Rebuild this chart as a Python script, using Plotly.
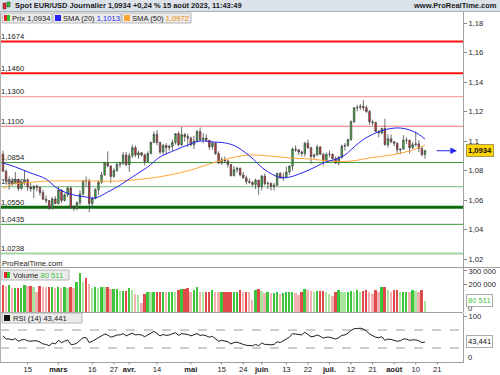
import pandas as pd
import plotly.graph_objects as go

W, H = 500, 375

# ---------------- data ----------------
dates = pd.bdate_range("2023-02-03", "2023-08-15")          # 138 daily sessions
calendar = pd.bdate_range("2023-02-03", "2023-09-29")       # axis calendar incl. future days

open_ = [1.0911, 1.0795, 1.0727, 1.0728, 1.0712, 1.0740, 1.0678, 1.0723, 1.0737, 1.0688,
         1.0675, 1.0694, 1.0685, 1.0650, 1.0605, 1.0596, 1.0545, 1.0607, 1.0576, 1.0668,
         1.0597, 1.0635, 1.0681, 1.0548, 1.0545, 1.0582, 1.0640, 1.0731, 1.0730, 1.0577,
         1.0610, 1.0670, 1.0720, 1.0770, 1.0850, 1.0830, 1.0760, 1.0800, 1.0843, 1.0845,
         1.0905, 1.0840, 1.0900, 1.0955, 1.0905, 1.0920, 1.0905, 1.0860, 1.0915, 1.0990,
         1.1045, 1.0990, 1.0925, 1.0970, 1.0955, 1.0965, 1.0990, 1.1050, 1.0975, 1.1043,
         1.1030, 1.1020, 1.0975, 1.1000, 1.1065, 1.1010, 1.1020, 1.1005, 1.0960, 1.0985,
         1.0915, 1.0850, 1.0873, 1.0865, 1.0840, 1.0765, 1.0805, 1.0815, 1.0770, 1.0750,
         1.0725, 1.0720, 1.0705, 1.0735, 1.0690, 1.0762, 1.0710, 1.0712, 1.0692, 1.0700,
         1.0780, 1.0750, 1.0755, 1.0790, 1.0830, 1.0945, 1.0940, 1.0925, 1.0915, 1.0985,
         1.0955, 1.0895, 1.0905, 1.0960, 1.0910, 1.0865, 1.0910, 1.0910, 1.0880, 1.0850,
         1.0890, 1.0965, 1.0970, 1.1010, 1.1130, 1.1225, 1.1228, 1.1235, 1.1225, 1.1200,
         1.1130, 1.1125, 1.1065, 1.1055, 1.1085, 1.0975, 1.1015, 1.0995, 1.0985, 1.0940,
         1.0945, 1.1005, 1.1005, 1.0955, 1.0975, 1.0980, 1.0950, 1.0908]
high = [1.0935, 1.0805, 1.0760, 1.0750, 1.0790, 1.0745, 1.0730, 1.0804, 1.0745, 1.0715,
        1.0700, 1.0705, 1.0695, 1.0670, 1.0630, 1.0600, 1.0620, 1.0625, 1.0690, 1.0670,
        1.0645, 1.0695, 1.0695, 1.0565, 1.0590, 1.0665, 1.0735, 1.0760, 1.0745, 1.0620,
        1.0680, 1.0735, 1.0790, 1.0860, 1.0930, 1.0835, 1.0815, 1.0850, 1.0860, 1.0925,
        1.0925, 1.0920, 1.0975, 1.0970, 1.0935, 1.0925, 1.0915, 1.0930, 1.0995, 1.1065,
        1.1075, 1.0995, 1.0980, 1.0985, 1.0975, 1.1010, 1.1050, 1.1065, 1.1095, 1.1055,
        1.1050, 1.1030, 1.1035, 1.1075, 1.1092, 1.1055, 1.1045, 1.1005, 1.1000, 1.0990,
        1.0930, 1.0890, 1.0895, 1.0875, 1.0845, 1.0830, 1.0825, 1.0820, 1.0790, 1.0765,
        1.0745, 1.0725, 1.0745, 1.0735, 1.0770, 1.0780, 1.0725, 1.0720, 1.0715, 1.0785,
        1.0790, 1.0785, 1.0825, 1.0835, 1.0955, 1.0970, 1.0945, 1.0935, 1.0995, 1.1010,
        1.0960, 1.0915, 1.0975, 1.0965, 1.0920, 1.0920, 1.0935, 1.0915, 1.0895, 1.0900,
        1.0975, 1.0985, 1.1015, 1.1140, 1.1230, 1.1245, 1.1250, 1.1276, 1.1240, 1.1210,
        1.1145, 1.1130, 1.1075, 1.1090, 1.1150, 1.1045, 1.1045, 1.1000, 1.0990, 1.0950,
        1.1040, 1.1025, 1.1010, 1.0995, 1.1065, 1.1005, 1.0960, 1.0940]
low = [1.0791, 1.0706, 1.0669, 1.0695, 1.0705, 1.0660, 1.0670, 1.0700, 1.0660, 1.0655,
       1.0613, 1.0660, 1.0630, 1.0600, 1.0578, 1.0533, 1.0535, 1.0570, 1.0570, 1.0580,
       1.0590, 1.0620, 1.0540, 1.0524, 1.0530, 1.0565, 1.0630, 1.0690, 1.0516, 1.0550,
       1.0605, 1.0635, 1.0710, 1.0765, 1.0825, 1.0715, 1.0750, 1.0790, 1.0820, 1.0840,
       1.0830, 1.0790, 1.0885, 1.0890, 1.0880, 1.0895, 1.0835, 1.0860, 1.0910, 1.0985,
       1.0970, 1.0910, 1.0910, 1.0910, 1.0935, 1.0935, 1.0975, 1.0965, 1.0965, 1.0995,
       1.0960, 1.0965, 1.0945, 1.0995, 1.0995, 1.0985, 1.0995, 1.0940, 1.0940, 1.0905,
       1.0845, 1.0840, 1.0850, 1.0820, 1.0760, 1.0760, 1.0785, 1.0760, 1.0745, 1.0705,
       1.0710, 1.0695, 1.0675, 1.0635, 1.0665, 1.0700, 1.0675, 1.0665, 1.0665, 1.0695,
       1.0745, 1.0730, 1.0750, 1.0770, 1.0800, 1.0925, 1.0905, 1.0895, 1.0895, 1.0945,
       1.0845, 1.0880, 1.0900, 1.0905, 1.0835, 1.0860, 1.0890, 1.0875, 1.0845, 1.0835,
       1.0880, 1.0935, 1.0960, 1.1000, 1.1125, 1.1200, 1.1210, 1.1205, 1.1190, 1.1110,
       1.1105, 1.1060, 1.1025, 1.1045, 1.0970, 1.0955, 1.0985, 1.0965, 1.0915, 1.0910,
       1.0940, 1.0980, 1.0915, 1.0945, 1.0965, 1.0925, 1.0895, 1.0880]
close = [1.0795, 1.0727, 1.0728, 1.0712, 1.0740, 1.0678, 1.0723, 1.0737, 1.0688, 1.0675,
         1.0694, 1.0685, 1.0650, 1.0605, 1.0596, 1.0545, 1.0607, 1.0576, 1.0668, 1.0597,
         1.0635, 1.0681, 1.0548, 1.0545, 1.0582, 1.0640, 1.0731, 1.0730, 1.0577, 1.0610,
         1.0670, 1.0720, 1.0770, 1.0850, 1.0830, 1.0760, 1.0800, 1.0843, 1.0845, 1.0905,
         1.0840, 1.0900, 1.0955, 1.0905, 1.0920, 1.0905, 1.0860, 1.0915, 1.0990, 1.1045,
         1.0990, 1.0925, 1.0970, 1.0955, 1.0965, 1.0990, 1.1050, 1.0975, 1.1043, 1.1030,
         1.1020, 1.0975, 1.1000, 1.1065, 1.1010, 1.1020, 1.1005, 1.0960, 1.0985, 1.0915,
         1.0850, 1.0873, 1.0865, 1.0840, 1.0765, 1.0805, 1.0815, 1.0770, 1.0750, 1.0725,
         1.0720, 1.0705, 1.0735, 1.0690, 1.0762, 1.0710, 1.0712, 1.0692, 1.0700, 1.0780,
         1.0750, 1.0755, 1.0790, 1.0830, 1.0945, 1.0940, 1.0925, 1.0915, 1.0985, 1.0955,
         1.0895, 1.0905, 1.0960, 1.0910, 1.0865, 1.0910, 1.0910, 1.0880, 1.0850, 1.0890,
         1.0965, 1.0970, 1.1010, 1.1130, 1.1225, 1.1228, 1.1235, 1.1225, 1.1200, 1.1130,
         1.1125, 1.1065, 1.1055, 1.1085, 1.0975, 1.1015, 1.0995, 1.0985, 1.0940, 1.0945,
         1.1005, 1.1005, 1.0955, 1.0975, 1.0980, 1.0950, 1.0908, 1.0934]
volume = [197000, 192000, 197000, 173000, 173000, 173000, 173000, 197000, 192000, 192000,
          185000, 144000, 190000, 185000, 180000, 180000, 185000, 173000, 185000, 173000,
          180000, 173000, 180000, 173000, 221000, 283000, 216000, 246000, 202000, 173000,
          185000, 173000, 185000, 180000, 180000, 165000, 165000, 165000, 153000, 153000,
          153000, 173000, 161000, 131000, 124000, 63000, 129000, 148000, 144000, 144000,
          148000, 148000, 148000, 144000, 144000, 148000, 144000, 161000, 168000, 168000,
          173000, 144000, 161000, 180000, 148000, 144000, 144000, 144000, 161000, 148000,
          144000, 144000, 144000, 144000, 148000, 148000, 148000, 161000, 148000, 148000,
          144000, 88000, 161000, 165000, 153000, 136000, 144000, 136000, 136000, 144000,
          129000, 136000, 144000, 144000, 144000, 136000, 124000, 144000, 165000, 161000,
          153000, 144000, 153000, 153000, 153000, 144000, 129000, 119000, 144000, 161000,
          148000, 144000, 144000, 153000, 144000, 161000, 144000, 153000, 161000, 144000,
          129000, 161000, 144000, 180000, 180000, 161000, 144000, 161000, 161000, 144000,
          144000, 148000, 144000, 161000, 153000, 144000, 161000, 80511]
rsi = [57, 50, 50, 48, 51, 45, 48, 49, 46, 45,
       46, 46, 43, 39, 38, 35, 41, 39, 47, 42,
       45, 48, 38, 38, 41, 46, 53, 53, 42, 45,
       49, 53, 56, 61, 59, 54, 56, 59, 59, 62,
       57, 60, 63, 59, 60, 59, 55, 59, 63, 67,
       62, 57, 60, 58, 59, 61, 64, 58, 62, 61,
       60, 57, 59, 62, 58, 59, 57, 54, 56, 50,
       45, 47, 46, 44, 39, 42, 43, 40, 38, 36,
       36, 35, 38, 35, 41, 38, 38, 37, 38, 44,
       42, 47, 50, 54, 62, 61, 60, 59, 65, 60,
       55, 56, 59, 56, 52, 54, 54, 52, 50, 53,
       58, 59, 63, 69, 73, 73, 74, 72, 68, 61,
       57, 54, 53, 55, 47, 50, 49, 47, 45, 46,
       50, 50, 47, 48, 48, 46, 42, 43.441]

sma20_dates = ["2023-02-03", "2023-02-09", "2023-02-16", "2023-02-23", "2023-02-28", "2023-03-03",
               "2023-03-08", "2023-03-14", "2023-03-17", "2023-03-23", "2023-03-29", "2023-03-31",
               "2023-04-06", "2023-04-11", "2023-04-17", "2023-04-24", "2023-04-28", "2023-05-04",
               "2023-05-10", "2023-05-15", "2023-05-19", "2023-05-26", "2023-06-02", "2023-06-09",
               "2023-06-14", "2023-06-19", "2023-06-22", "2023-06-27", "2023-06-30", "2023-07-05",
               "2023-07-10", "2023-07-13", "2023-07-18", "2023-07-21", "2023-07-26", "2023-07-31",
               "2023-08-03", "2023-08-08", "2023-08-11", "2023-08-15"]
sma20_values = [1.0851, 1.0824, 1.0783, 1.0742, 1.0688, 1.0654,
                1.0634, 1.0620, 1.0614, 1.0654, 1.0700, 1.0729,
                1.0783, 1.0824, 1.0892, 1.0939, 1.0973, 1.1000,
                1.0993, 1.0990, 1.0970, 1.0900, 1.0805, 1.0752,
                1.0755, 1.0775, 1.0800, 1.0830, 1.0860, 1.0875,
                1.0905, 1.0960, 1.1010, 1.1045, 1.1070, 1.1085,
                1.1088, 1.1075, 1.1045, 1.1013]
sma50_dates = ["2023-02-03", "2023-02-06", "2023-02-08", "2023-02-13", "2023-02-17", "2023-02-24",
               "2023-03-13", "2023-03-29", "2023-04-12", "2023-04-20", "2023-05-01", "2023-05-09",
               "2023-05-18", "2023-05-26", "2023-06-06", "2023-06-14", "2023-06-23", "2023-07-03",
               "2023-07-12", "2023-07-20", "2023-07-31", "2023-08-08", "2023-08-15"]
sma50_values = [1.0678, 1.0688, 1.0708, 1.0715, 1.0722, 1.0729,
                1.0729, 1.0729, 1.0749, 1.0769, 1.0803, 1.0844,
                1.0885, 1.0905, 1.0898, 1.0885, 1.0878, 1.0864,
                1.0864, 1.0885, 1.0905, 1.0932, 1.0972]

levels = [1.1674, 1.1460, 1.1300, 1.1100, 1.0854, 1.0690, 1.0550, 1.0435, 1.0238]
price_ticks = [1.02, 1.04, 1.06, 1.08, 1.10, 1.12, 1.14, 1.16, 1.18]
volume_ticks = [200000, 300000]
rsi_ticks = [100]
rsi_bands = [70, 30]

tick_dates = ["2023-02-15", "2023-03-01", "2023-03-16", "2023-03-27", "2023-04-03", "2023-04-14",
              "2023-05-01", "2023-05-15", "2023-05-24", "2023-06-01", "2023-06-13", "2023-06-22",
              "2023-07-03", "2023-07-12", "2023-07-21", "2023-08-01", "2023-08-10", "2023-08-21"]
tick_labels = ["15", "<b>mars</b>", "16", "27", "<b>avr.</b>", "14",
               "<b>mai</b>", "15", "24", "<b>juin</b>", "13", "22",
               "<b>juil.</b>", "12", "21", "<b>août</b>", "10", "21"]

# ---------------- styles ----------------
level_colors = ["#ff1010", "#ff1010", "#f58a8a", "#f07070", "#3a9a3a", "#78b878", "#0b6b0b", "#3a9a3a", "#a6d3a6"]
level_widths = [2, 2, 1, 1, 1, 1, 3, 1, 2]
GREEN, RED = "#2ec52e", "#e52525"
BLUE, ORANGE = "#2424f0", "#ffa534"
FONT = "Liberation Sans, Arial, sans-serif"
FS = 7.6

pos_of = {d.strftime("%Y-%m-%d"): i for i, d in enumerate(calendar)}
x = [pos_of[d.strftime("%Y-%m-%d")] for d in dates]


def fx(px):
    return px / W


def fy(py):
    return 1 - py / H


def fmt(v, n=4):
    return f"{v:.{n}f}".replace(".", ",")


fig = go.Figure()
fig.add_trace(go.Candlestick(
    x=x, open=open_, high=high, low=low, close=close,
    increasing=dict(fillcolor=GREEN, line=dict(color="#4a4a4a", width=0.8)),
    decreasing=dict(fillcolor=RED, line=dict(color="#4a4a4a", width=0.8)),
    whiskerwidth=0, hoverinfo="skip", showlegend=False, xaxis="x", yaxis="y"))
fig.add_trace(go.Scatter(x=[pos_of[d] for d in sma50_dates], y=sma50_values, mode="lines",
                         line=dict(color=ORANGE, width=1, shape="spline"), hoverinfo="skip",
                         xaxis="x", yaxis="y"))
fig.add_trace(go.Scatter(x=[pos_of[d] for d in sma20_dates], y=sma20_values, mode="lines",
                         line=dict(color=BLUE, width=1, shape="spline"), hoverinfo="skip",
                         xaxis="x", yaxis="y"))

vcolors = []
for i in range(len(volume)):
    up = close[i] >= open_[i]
    light = i > 0 and volume[i] < volume[i - 1]
    if up:
        vcolors.append("#a8e6a0" if light else "#3cc43c")
    else:
        vcolors.append("#f3b0b0" if light else "#e04a4a")
fig.add_trace(go.Bar(x=x, y=volume, marker=dict(color=vcolors, line=dict(width=0)), width=0.62,
                     hoverinfo="skip", xaxis="x", yaxis="y2"))
fig.add_trace(go.Scatter(x=x, y=rsi, mode="lines", line=dict(color="#1c1c1c", width=1),
                         hoverinfo="skip", xaxis="x", yaxis="y3"))

shapes = []
# header bar
shapes.append(dict(type="rect", xref="paper", yref="paper", x0=0, x1=1, y0=fy(11.5), y1=1,
                   fillcolor="#dbe2ea", line=dict(width=0), layer="above"))
shapes.append(dict(type="line", xref="paper", yref="paper", x0=0, x1=1, y0=fy(11.5), y1=fy(11.5),
                   line=dict(color="#a8b2bc", width=1), layer="above"))
# header candle icon
for (a, b, c, d, col) in [(3, 6, 3, 9, RED), (7, 10, 2, 7, GREEN)]:
    shapes.append(dict(type="rect", xref="paper", yref="paper", x0=fx(a), x1=fx(b), y0=fy(d), y1=fy(c),
                       fillcolor=col, line=dict(color="#333", width=0.5), layer="above"))
# level lines
for v, c, w in zip(levels, level_colors, level_widths):
    shapes.append(dict(type="line", xref="x domain", yref="y", x0=0, x1=1, y0=v, y1=v,
                       line=dict(color=c, width=w), layer="below",
                       label=dict(text=fmt(v), textposition="start", xanchor="left", yanchor="bottom",
                                  textangle=0, padding=1, font=dict(family=FONT, size=FS, color="#222"))))
# RSI bands
for v in rsi_bands:
    shapes.append(dict(type="line", xref="x domain", yref="y3", x0=0, x1=1, y0=v, y1=v,
                       line=dict(color="#9a9a9a", width=1, dash="dash"), layer="below"))
# panel separators
shapes.append(dict(type="line", xref="paper", yref="paper", x0=0, x1=1, y0=fy(267.5), y1=fy(267.5),
                   line=dict(color="#a0a0a0", width=1), layer="above"))
shapes.append(dict(type="line", xref="paper", yref="paper", x0=0, x1=fx(463), y0=fy(312.5), y1=fy(312.5),
                   line=dict(color="#a0a0a0", width=1), layer="above"))
shapes.append(dict(type="line", xref="paper", yref="paper", x0=fx(0.5), x1=fx(0.5), y0=fy(362), y1=fy(12),
                   line=dict(color="#b0b0b0", width=1), layer="above"))
# small tick marks under the date axis
for d in tick_dates:
    shapes.append(dict(type="line", xref="x", yref="paper", x0=pos_of[d], x1=pos_of[d],
                       y0=fy(362), y1=fy(364.5), line=dict(color="#888", width=1), layer="above"))
# legend boxes
boxes = [(2, 52, 13, 23), (53, 121, 13, 23), (122, 191, 13, 23), (2, 69, 270, 280), (2, 82, 313, 323)]
for (a, b, c, d) in boxes:
    shapes.append(dict(type="rect", xref="paper", yref="paper", x0=fx(a), x1=fx(b), y0=fy(d), y1=fy(c),
                       fillcolor="#ebebeb", line=dict(color="#b5b5b5", width=1), layer="above"))
icons = [(4, 7, 15, 21, RED), (7, 10, 15, 21, GREEN), (55, 61, 15, 21, BLUE), (124, 130, 15, 21, ORANGE),
         (4, 7, 272, 278, RED), (7, 10, 272, 278, GREEN), (4, 10, 315, 321, "#111")]
for (a, b, c, d, col) in icons:
    shapes.append(dict(type="rect", xref="paper", yref="paper", x0=fx(a), x1=fx(b), y0=fy(d), y1=fy(c),
                       fillcolor=col, line=dict(width=0), layer="above"))

chg = (close[-1] / close[-2] - 1) * 100
title = f"Spot EUR/USD Journalier {fmt(close[-1])} {'+' if chg >= 0 else ''}{fmt(chg, 2)} % 15 août 2023, 11:43:49"
vol_txt = f"{volume[-1]:,}".replace(",", " ")

ann = []


def txt(px, py, text, anchor="left", size=FS, color="#1a1a1a"):
    ann.append(dict(x=fx(px), y=fy(py), xref="paper", yref="paper", text=text, showarrow=False,
                    xanchor=anchor, yanchor="middle", font=dict(family=FONT, size=size, color=color),
                    borderpad=0))


txt(14, 5.5, f"<b>{title}</b>", size=7.5)
txt(498, 5.5, "<b>www.ProRealTime.com</b>", anchor="right", size=7.5)
txt(11, 18, f"Prix {fmt(close[-1])}")
txt(62, 18, f"SMA (20) <span style='color:{BLUE}'>{fmt(sma20_values[-1])}</span>")
txt(131, 18, f"SMA (50) <span style='color:#f08c00'>{fmt(sma50_values[-1])}</span>")
txt(1, 263, "ProRealTime.com")
txt(12, 275, f"Volume <span style='color:#3cc43c'>{vol_txt}</span>")
txt(12, 318, f"RSI (14) {fmt(rsi[-1], 3)}")
txt(467, 308, "0")
txt(467, 357, "0")

ann.append(dict(x=fx(466), y=close[-1], xref="paper", yref="y", text=f"<b>{fmt(close[-1])}</b>",
                showarrow=False, xanchor="left", yanchor="middle", bgcolor="#ffd400",
                bordercolor="#a89a50", borderwidth=1, borderpad=1,
                font=dict(family=FONT, size=FS, color="#111")))
ann.append(dict(x=fx(466), y=volume[-1], xref="paper", yref="y2", text=vol_txt,
                showarrow=False, xanchor="left", yanchor="middle", bgcolor="white",
                bordercolor="#aaaaaa", borderwidth=1, borderpad=1,
                font=dict(family=FONT, size=FS, color="#3cc43c")))
ann.append(dict(x=fx(466), y=rsi[-1], xref="paper", yref="y3", text=fmt(rsi[-1], 3),
                showarrow=False, xanchor="left", yanchor="middle", bgcolor="white",
                bordercolor="#aaaaaa", borderwidth=1, borderpad=1,
                font=dict(family=FONT, size=FS, color="#111")))
ann.append(dict(x=x[-1] + 10.4, y=close[-1], xref="x", yref="y", ax=x[-1] + 3.3, ay=close[-1],
                axref="x", ayref="y", text="", showarrow=True, arrowhead=2, arrowsize=1.1,
                arrowwidth=1.2, arrowcolor=BLUE))

axis_font = dict(family=FONT, size=FS, color="#222")
common_y = dict(side="right", anchor="x", showgrid=False, zeroline=False, showline=True,
                linecolor="#a0a0a0", linewidth=1, ticks="outside", ticklen=3, tickcolor="#888",
                tickfont=axis_font, automargin=False, fixedrange=True)

fig.update_layout(
    width=W, height=H, margin=dict(l=0, r=0, t=0, b=0),
    paper_bgcolor="white", plot_bgcolor="white", separators=", ", showlegend=False,
    font=dict(family=FONT, size=FS, color="#222"), bargap=0,
    xaxis=dict(domain=[0, 463 / W], range=[-0.97, 149.35], anchor="y3",
               tickmode="array", tickvals=[pos_of[d] for d in tick_dates], ticktext=tick_labels,
               ticks="", showline=True, linecolor="#a0a0a0",
               showgrid=False, zeroline=False, rangeslider=dict(visible=False),
               tickfont=axis_font, automargin=False, fixedrange=True),
    yaxis=dict(domain=[fy(267), fy(12)], range=[1.014576, 1.187458], tickmode="array",
               tickvals=price_ticks, tickformat=".2~f", **common_y),
    yaxis2=dict(domain=[fy(312), fy(268)], range=[0, 321168], tickmode="array",
                tickvals=volume_ticks, tickformat=",d", **common_y),
    yaxis3=dict(domain=[fy(362), fy(313)], range=[-1.11, 107.78], tickmode="array",
                tickvals=rsi_ticks, **common_y),
    shapes=shapes, annotations=ann,
)

fig.write_html("out.html")
